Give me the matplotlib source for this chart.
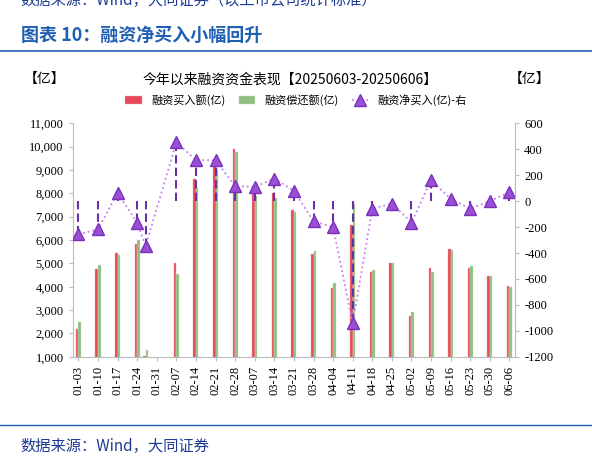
import matplotlib
matplotlib.use("Agg")
import matplotlib.pyplot as plt
import matplotlib.dates as mdates
import numpy as np
import datetime as dt

plt.rcParams['font.family'] = ['Noto Sans CJK SC', 'DejaVu Sans']

dates = ["2025-01-03","2025-01-10","2025-01-17","2025-01-24","2025-01-27","2025-02-07","2025-02-14",
         "2025-02-21","2025-02-28","2025-03-07","2025-03-14","2025-03-21","2025-03-28","2025-04-04",
         "2025-04-11","2025-04-18","2025-04-25","2025-05-02","2025-05-09","2025-05-16","2025-05-23",
         "2025-05-30","2025-06-06"]
buy = [2200,4750,5450,5850,1050,5000,8600,9200,9900,8050,8000,7270,5400,3950,6630,4620,5000,2760,4800,5630,4800,4480,4050]
repay = [2500,4950,5350,6000,1300,4550,8250,9050,9750,7900,7800,7180,5550,4150,7530,4700,5000,2930,4640,5580,4870,4480,4000]
net = [-256,-218,64,-166,-346,453,316,316,115,110,174,79,-156,-200,-942,-58,-19,-166,162,17,-58,-1,71]
tick_labels = ["01-03","01-10","01-17","01-24","01-31","02-07","02-14","02-21","02-28","03-07","03-14",
               "03-21","03-28","04-04","04-11","04-18","04-25","05-02","05-09","05-16","05-23","05-30","06-06"]

x = mdates.date2num([dt.datetime.strptime(d, "%Y-%m-%d") for d in dates])
tx = mdates.date2num([dt.datetime.strptime("2025-" + t, "%Y-%m-%d") for t in tick_labels])

fig = plt.figure(figsize=(5.92, 4.67), dpi=100)
fig.text(0.035, 1.0, "数据来源：Wind，大同证券（以上市公司统计标准）", fontsize=11, color="#1f3a93",
         style="italic", va="center")
fig.text(0.035, 0.925, "图表 10：融资净买入小幅回升", fontsize=13, color="#1f5fb4", weight="bold", va="center")
fig.add_artist(plt.Line2D([0.0, 1.0], [0.89, 0.89], color="#1f5fb4", lw=1.2))
fig.text(0.035, 0.045, "数据来源：Wind，大同证券", fontsize=11, color="#1f3a93", style="italic", va="center")
fig.add_artist(plt.Line2D([0.0, 1.0], [0.09, 0.09], color="#1f5fb4", lw=1.0))

ax = fig.add_axes([0.123, 0.236, 0.747, 0.500])
w = 0.9
ax.bar(x - w/2, buy, width=w, color="#e8495a", edgecolor="#f3a0a8", lw=0.3, label="融资买入额(亿)", bottom=0)
ax.bar(x + w/2, repay, width=w, color="#8fbf7f", edgecolor="#c8e0bc", lw=0.3, label="融资偿还额(亿)")
ax.set_ylim(1000, 11000)
ax.set_yticks(np.arange(1000, 11001, 1000))
ax.set_yticklabels([f"{v:,}" for v in range(1000, 11001, 1000)], fontsize=9, family="Liberation Serif")
ax.set_xlim(tx[0] - 2, tx[-1] + 2)
ax.set_xticks(tx)
ax.set_xticklabels(tick_labels, rotation=90, fontsize=9, family="Liberation Serif")
for s in ["top", "right"]:
    ax.spines[s].set_visible(False)
ax.spines["left"].set_color("#bbbbbb")
ax.spines["bottom"].set_color("#bbbbbb")
ax.tick_params(length=3, color="#bbbbbb")

ax2 = ax.twinx()
ax2.vlines(x, 0, net, colors="#6a2fa8", linestyles=(0, (4, 2)), lw=1.5)
ax2.plot(x, net, linestyle=":", color="#c77df0", lw=1.3, marker="^", markersize=8,
         markerfacecolor="#9b4fd6", markeredgecolor="#7a30b8", label="融资净买入(亿)-右")
ax2.set_ylim(-1200, 600)
ax2.set_yticks(np.arange(-1200, 601, 200))
ax2.set_yticklabels([str(v) for v in range(-1200, 601, 200)], fontsize=9, family="Liberation Serif")
for s in ["top", "left", "bottom"]:
    ax2.spines[s].set_visible(False)
ax2.spines["right"].set_color("#bbbbbb")
ax2.tick_params(length=3, color="#bbbbbb")

h1, l1 = ax.get_legend_handles_labels()
h2, l2 = ax2.get_legend_handles_labels()
fig.legend(h1 + h2, l1 + l2, loc="center", bbox_to_anchor=(0.5, 0.785), ncol=3, frameon=False,
           fontsize=8, handlelength=1.5, columnspacing=1.2)
fig.text(0.49, 0.83, "今年以来融资资金表现【20250603-20250606】", fontsize=10, ha="center", va="center")
fig.text(0.04, 0.83, "【亿】", fontsize=10, va="center")
fig.text(0.86, 0.83, "【亿】", fontsize=10, va="center")

fig.savefig("out.png", dpi=100)
